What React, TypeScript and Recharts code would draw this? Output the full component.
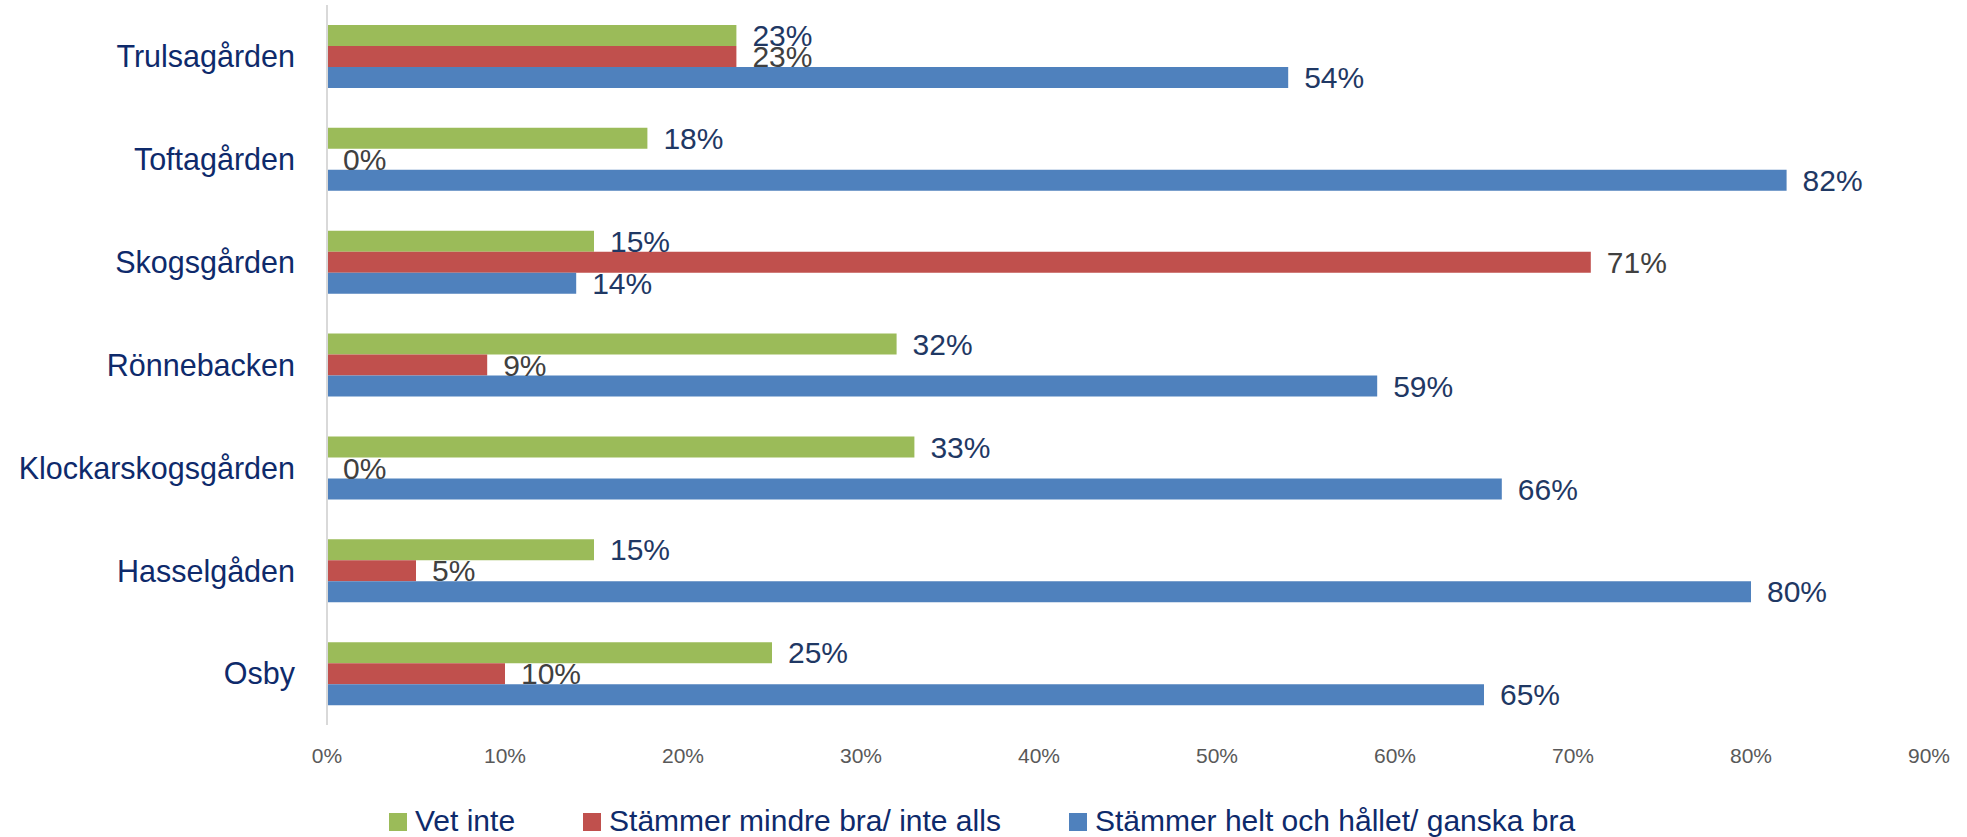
import { BarChart, Bar, XAxis, YAxis, Legend, LabelList } from 'recharts';

// boenden, uppifrån och ned
const categories = ['Trulsagården', 'Toftagården', 'Skogsgården', 'Rönnebacken', 'Klockarskogsgården', 'Hasselgåden', 'Osby'];

const vetInte = [23, 18, 15, 32, 33, 15, 25];
const mindreBra = [23, 0, 71, 9, 0, 5, 10];
const heltBra = [54, 82, 14, 59, 66, 80, 65];

const xTicks = [0, 10, 20, 30, 40, 50, 60, 70, 80, 90];

const seriesNames = ['Vet inte', 'Stämmer mindre bra/ inte alls', 'Stämmer helt och hållet/ ganska bra'];

const GREEN = '#9BBB59';
const RED = '#C0504D';
const BLUE = '#4F81BD';
const NAVY = '#0E2A6B';
const LABEL_NAVY = '#1F3864';
const GRAY = '#404040';

const chartData = categories.map((name, i) => ({
    name,
    vet: vetInte[i],
    mindre: mindreBra[i],
    helt: heltBra[i],
}));

const legendItems = [
    { label: seriesNames[0], color: GREEN },
    { label: seriesNames[1], color: RED },
    { label: seriesNames[2], color: BLUE },
];

function CustomLegend() {
    return (
        <div style={{ display: 'flex', alignItems: 'center', fontSize: 30, lineHeight: '30px', color: NAVY }}>
            {legendItems.map((item, i) => (
                <div key={item.label} style={{ display: 'flex', alignItems: 'center', marginLeft: i === 0 ? 0 : 68 }}>
                    <div style={{ width: 18, height: 18, background: item.color, marginRight: 8, marginTop: 2 }} />
                    <span style={{ whiteSpace: 'nowrap' }}>{item.label}</span>
                </div>
            ))}
        </div>
    );
}

const pct = (v: any) => `${v}%`;

export default function App() {
    return (
        <div style={{ position: 'absolute', left: 0, top: 0, width: 1967, height: 837, background: '#fff', fontFamily: '"Liberation Sans", Arial, sans-serif' }}>
            <BarChart
                width={1967}
                height={837}
                data={chartData}
                layout="vertical"
                margin={{ top: 5, right: 38, bottom: 32, left: 0 }}
                barGap={0}
            >
                <XAxis
                    type="number"
                    domain={[0, 90]}
                    ticks={xTicks}
                    tickFormatter={pct}
                    axisLine={false}
                    tickLine={false}
                    tickSize={0}
                    tickMargin={23}
                    height={40}
                    tick={{ fill: '#595959', fontSize: 21 }}
                />
                <YAxis
                    type="category"
                    dataKey="name"
                    width={327}
                    axisLine={{ stroke: '#D9D9D9', strokeWidth: 2 }}
                    tickLine={false}
                    tickSize={0}
                    tickMargin={32}
                    tick={{ fill: NAVY, fontSize: 30.5 }}
                />
                <Legend
                    verticalAlign="bottom"
                    content={<CustomLegend />}
                    wrapperStyle={{ left: 389, top: 806, width: 1400, height: 40 }}
                />
                <Bar dataKey="vet" name={seriesNames[0]} fill={GREEN} barSize={21} isAnimationActive={false}>
                    <LabelList dataKey="vet" position="right" offset={16} formatter={pct} fill={LABEL_NAVY} fontSize={30} />
                </Bar>
                <Bar dataKey="mindre" name={seriesNames[1]} fill={RED} barSize={21} minPointSize={0.01} isAnimationActive={false}>
                    <LabelList dataKey="mindre" position="right" offset={16} formatter={pct} fill={GRAY} fontSize={30} />
                </Bar>
                <Bar dataKey="helt" name={seriesNames[2]} fill={BLUE} barSize={21} isAnimationActive={false}>
                    <LabelList dataKey="helt" position="right" offset={16} formatter={pct} fill={LABEL_NAVY} fontSize={30} />
                </Bar>
            </BarChart>
        </div>
    );
}
